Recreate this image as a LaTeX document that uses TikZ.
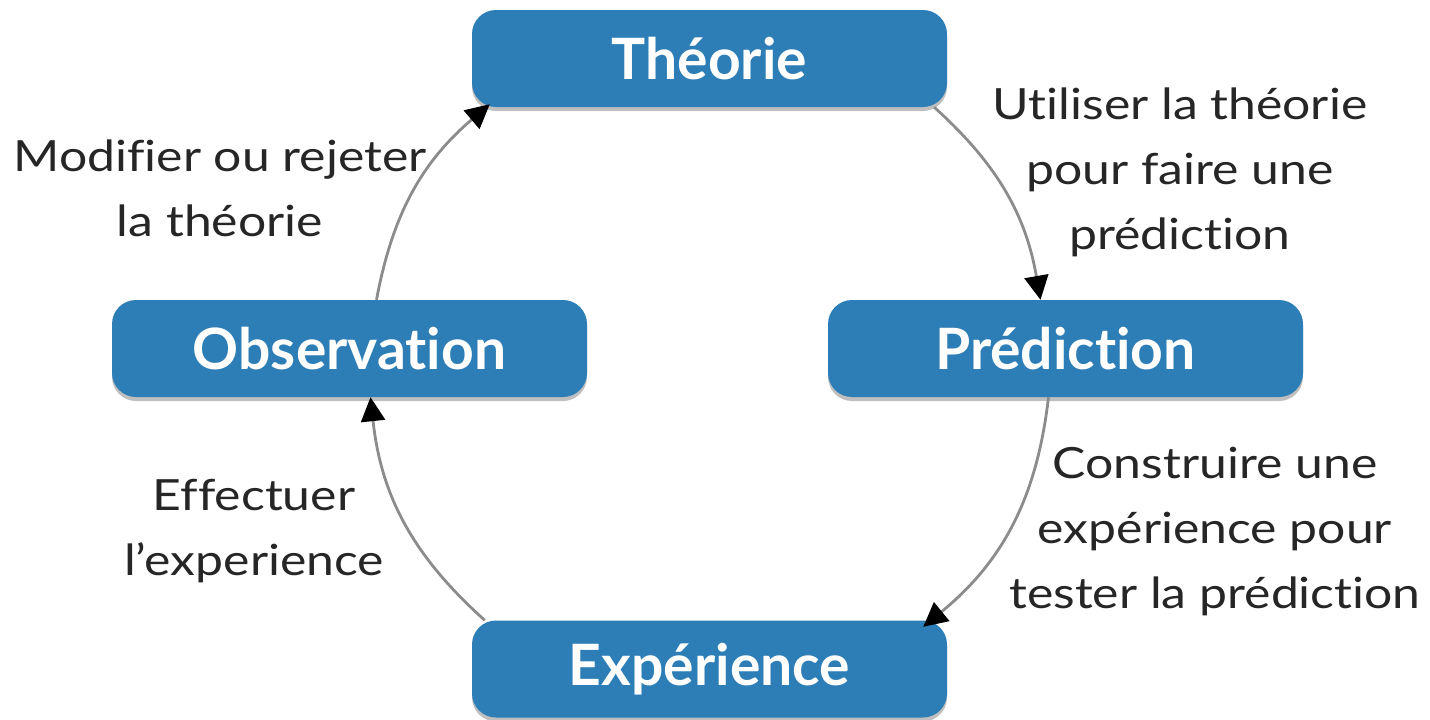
\documentclass[tikz,border=0pt]{standalone}
\usepackage{fontspec}
\setmainfont{Lato}[Ligatures=NoCommon]
\newfontfamily\lbl{Lato}[FakeStretch=1.16,Ligatures=NoCommon]
\usetikzlibrary{arrows.meta,shadows}
\definecolor{boxblue}{RGB}{45,126,182}
\definecolor{linegray}{RGB}{140,140,140}
\tikzset{
  stepbox/.style={draw=none, fill=boxblue, rounded corners=24pt, minimum width=475pt,
    minimum height=97pt, inner sep=0pt, text=white,
    font=\bfseries\fontsize{57}{60}\selectfont,
    drop shadow={shadow xshift=0pt, shadow yshift=-4pt, opacity=0.25, fill=black}},
  lab/.style={align=center, inner sep=0pt, font=\lbl\fontsize{43}{65}\selectfont, text=black!85},
  cyc/.style={draw=linegray, line width=2.8pt, -{Triangle[length=24pt,width=24pt,color=black]}},
}
\begin{document}
\begin{tikzpicture}[x=1pt,y=-1pt]
\fill[white] (0,0) rectangle (1430,720);
\useasboundingbox (0,0) rectangle (1430,720);

\node[stepbox] (T) at (709.5,58.5) {Théorie};
\node[stepbox] (O) at (349.5,348.5) {Observation};
\node[stepbox] (P) at (1065.5,348.5) {Prédiction};
\node[stepbox] (E) at (709.5,669) {Expérience};

\node[lab] (l1) at (1180,172) {Utiliser la théorie\\pour faire une\\prédiction};
\node[lab] (l2) at (1215,531) {Construire une\\expérience pour\\tester la prédiction};
\node[lab] (l3) at (254,531) {Effectuer\\l’experience};
\node[lab] (l4) at (220,188) {Modifier ou rejeter\\la théorie};

\draw[cyc] ([xshift=-13pt]T.south east) to[bend left=19] ([xshift=-25pt]P.north);
\draw[cyc] ([xshift=-17pt]P.south) to[bend left=22] ([xshift=-24pt,yshift=-6.5pt]E.north east);
\draw[cyc] ([xshift=13pt]E.north west) to[bend left=21] ([xshift=21pt]O.south);
\draw[cyc] ([xshift=27pt]O.north) to[bend left=19.5] ([xshift=18pt,yshift=3pt]T.south west);
\end{tikzpicture}
\end{document}
